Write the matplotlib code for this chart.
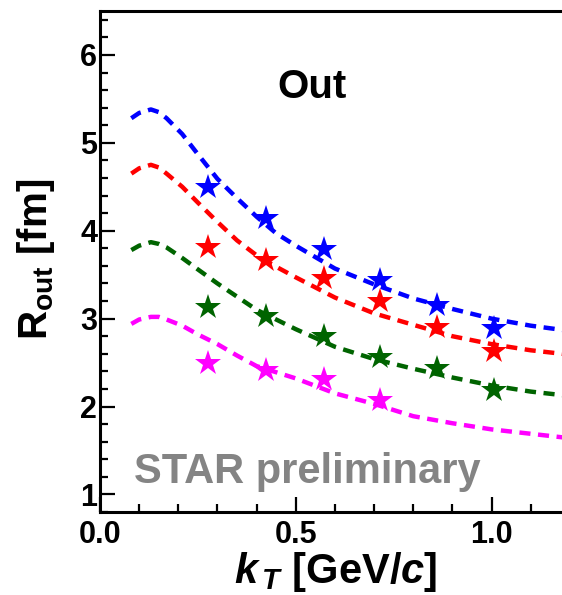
import matplotlib
matplotlib.use("Agg")
import matplotlib.pyplot as plt
from matplotlib.ticker import MultipleLocator

plt.rcParams['font.family'] = ['Liberation Sans', 'DejaVu Sans']
plt.rcParams['font.weight'] = 'bold'
plt.rcParams['mathtext.fontset'] = 'custom'
plt.rcParams['mathtext.rm'] = 'Liberation Sans:bold'
plt.rcParams['mathtext.it'] = 'Liberation Sans:bold:italic'
plt.rcParams['mathtext.bf'] = 'Liberation Sans:bold'

# data points (stars)
kt = [0.277, 0.424, 0.571, 0.716, 0.861, 1.006]
r_blue = [4.50, 4.14, 3.79, 3.445, 3.16, 2.89]
r_red = [3.82, 3.67, 3.46, 3.20, 2.91, 2.63]
r_green = [3.13, 3.03, 2.80, 2.56, 2.44, 2.19]
kt_mag = [0.277, 0.424, 0.571, 0.716]
r_mag = [2.49, 2.42, 2.31, 2.07]

# model curves (dashed)
cx = [0.08, 0.10, 0.13, 0.15, 0.17, 0.21, 0.25, 0.30, 0.35, 0.40, 0.45,
      0.50, 0.60, 0.70, 0.80, 0.90, 1.00, 1.10, 1.20]
c_blue = [5.28, 5.34, 5.38, 5.35, 5.28, 5.10, 4.87, 4.59, 4.37, 4.16, 3.97,
          3.83, 3.57, 3.39, 3.23, 3.11, 3.00, 2.92, 2.86]
c_red = [4.65, 4.71, 4.75, 4.72, 4.65, 4.50, 4.32, 4.10, 3.89, 3.72, 3.59,
         3.47, 3.24, 3.06, 2.93, 2.80, 2.71, 2.64, 2.59]
c_green = [3.78, 3.83, 3.87, 3.85, 3.81, 3.69, 3.56, 3.40, 3.25, 3.10, 2.99,
           2.88, 2.68, 2.54, 2.43, 2.33, 2.24, 2.17, 2.12]
c_mag = [2.94, 2.99, 3.02, 3.02, 2.99, 2.92, 2.82, 2.71, 2.58, 2.46, 2.39,
         2.32, 2.15, 2.03, 1.89, 1.81, 1.74, 1.69, 1.64]

colors = ['#0000ff', '#ff0000', '#006400', '#ff00ff']

fig = plt.figure(figsize=(5.62, 5.95), dpi=100)
ax = fig.add_axes([100/562, 1-512/595, 462/562, 501/595])

for cy, col in zip([c_blue, c_red, c_green, c_mag], colors):
    ax.plot(cx, cy, linestyle=(0, (2.5, 1.7)), color=col, lw=3.2, zorder=2)

for xs, ys, col in zip([kt, kt, kt, kt_mag], [r_blue, r_red, r_green, r_mag], colors):
    ax.plot(xs, ys, linestyle='none', marker='*', markersize=19, color=col,
            markeredgewidth=0, zorder=3)

ax.set_xlim(0, 1.18)
ax.set_ylim(0.8, 6.5)
ax.xaxis.set_minor_locator(MultipleLocator(0.1))
ax.yaxis.set_minor_locator(MultipleLocator(0.2))
ax.set_xticks([0.0, 0.5, 1.0])
ax.set_xticklabels(['0.0', '0.5', '1.0'])
ax.set_yticks([1, 2, 3, 4, 5, 6])
ax.set_yticklabels(['1', '2', '3', '4', '5', '6'])
ax.tick_params(which='major', direction='in', length=11, width=1.6,
               labelsize=22, top=False, right=False)
ax.tick_params(which='minor', direction='in', length=6, width=1.6,
               top=False, right=False)
ax.tick_params(axis='y', which='major', pad=2)
ax.tick_params(axis='x', which='major', pad=6)
for lab in ax.get_xticklabels() + ax.get_yticklabels():
    lab.set_fontweight('bold')
for s in ['left', 'bottom', 'top']:
    ax.spines[s].set_linewidth(2.2)
ax.spines['right'].set_visible(False)

fig.text(36/562, 1-259/595, r'R$_{\mathrm{out}}$ [fm]', rotation=90,
         ha='center', va='center', fontsize=29, fontweight='bold')
fig.text(336/562, 1-572/595, r'$k_{\,T}$ [GeV/$c$]',
         ha='center', va='center', fontsize=30, fontweight='bold')
fig.text(312/562, 1-98/595, 'Out', ha='center', va='baseline',
         fontsize=29, fontweight='bold')
fig.text(307/562, 1-483/595, 'STAR preliminary', ha='center', va='baseline',
         fontsize=30, fontweight='bold', color='#848484')

fig.savefig('out.png', dpi=100)
